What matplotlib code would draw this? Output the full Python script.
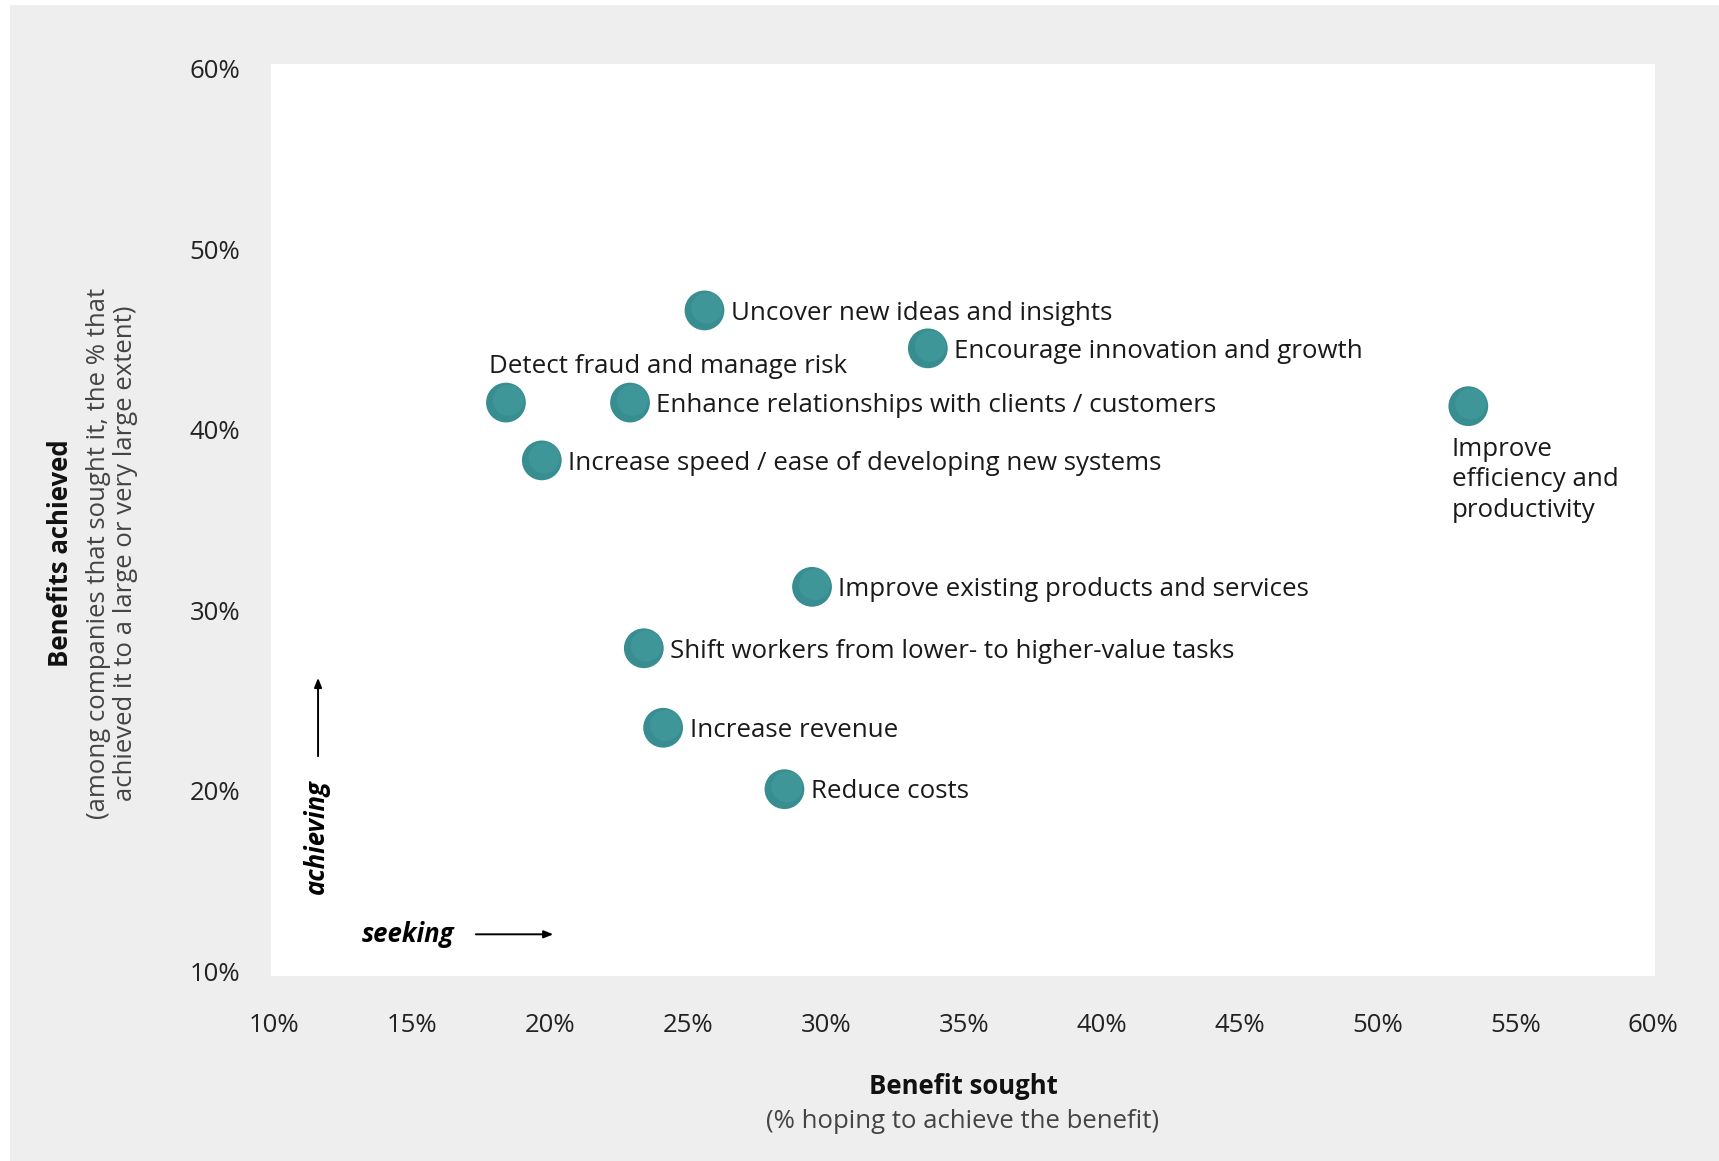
import matplotlib.pyplot as plt
from matplotlib.patches import Rectangle
from matplotlib.ticker import FuncFormatter

plt.rcParams['font.family'] = ['Open Sans', 'DejaVu Sans']

# datos (% que busca el beneficio, % que lo logra)
labels = [
    "Uncover new ideas and insights",
    "Encourage innovation and growth",
    "Detect fraud and manage risk",
    "Enhance relationships with clients / customers",
    "Improve\nefficiency and\nproductivity",
    "Increase speed / ease of developing new systems",
    "Improve existing products and services",
    "Shift workers from lower- to higher-value tasks",
    "Increase revenue",
    "Reduce costs",
]
sought = [25.6, 33.7, 18.4, 22.9, 53.3, 19.7, 29.5, 23.4, 24.1, 28.5]
achieved = [46.6, 44.5, 41.5, 41.5, 41.3, 38.3, 31.3, 27.9, 23.5, 20.1]
# donde va la etiqueta: derecha, arriba, abajo
placement = ['right', 'right', 'above', 'right', 'below',
             'right', 'right', 'right', 'right', 'right']

ticks = [10, 20, 30, 40, 50, 60]
xticks = [10, 15, 20, 25, 30, 35, 40, 45, 50, 55, 60]

fig = plt.figure(figsize=(17.19, 11.61), dpi=100, facecolor='white')
fig.patches.append(Rectangle((10 / 1719, 0), 1 - 10 / 1719, 1 - 5 / 1161,
                             transform=fig.transFigure, facecolor='#eeeeee',
                             edgecolor='none', zorder=-10))

ax = fig.add_axes([271 / 1719, 1 - 976 / 1161, (1655 - 271) / 1719, (976 - 64) / 1161])
ax.set_facecolor('white')
for s in ax.spines.values():
    s.set_visible(False)

ax.set_xlim(9.88, 60.07)
ax.set_ylim(9.76, 60.24)
ax.set_xticks(xticks)
ax.set_yticks(ticks)
fmt = FuncFormatter(lambda v, p: f"{v:.0f}%")
ax.xaxis.set_major_formatter(fmt)
ax.yaxis.set_major_formatter(fmt)
ax.tick_params(axis='both', length=0, labelsize=18.5, colors='#222222')
ax.tick_params(axis='x', pad=27)
ax.tick_params(axis='y', pad=22)

# puntos
ax.scatter(sought, achieved, s=820, color='#388d91', edgecolor='none', zorder=3)
ax.scatter([v + 0.09 for v in sought], [v + 0.13 for v in achieved], s=500,
           color='#48a5a7', edgecolor='none', alpha=0.4, zorder=4)

for lab, x, y, pl in zip(labels, sought, achieved, placement):
    if pl == 'right':
        ax.annotate(lab, (x, y), xytext=(19, -2), textcoords='offset points',
                    ha='left', va='center', fontsize=18.6, color='#1a1a1a')
    elif pl == 'above':
        ax.annotate(lab, (x, y), xytext=(-12, 26), textcoords='offset points',
                    ha='left', va='center', fontsize=18.6, color='#1a1a1a')
    else:
        ax.annotate(lab, (x, y), xytext=(-12, -22), textcoords='offset points',
                    ha='left', va='top', fontsize=18.6, color='#1a1a1a',
                    linespacing=1.3)

# flechas "seeking" / "achieving"
ax.text(0.0325, 0.153, "achieving", transform=ax.transAxes, rotation=90,
        ha='center', va='center', fontsize=18.5, fontweight='bold', style='italic')
ax.annotate("", xy=(0.034, 0.330), xytext=(0.034, 0.238), xycoords='axes fraction',
            arrowprops=dict(arrowstyle='-|>,head_length=0.55,head_width=0.22', lw=1.4, color='black'))
ax.text(0.099, 0.0457, "seeking", transform=ax.transAxes,
        ha='center', va='center', fontsize=18.5, fontweight='bold', style='italic')
ax.annotate("", xy=(0.206, 0.0457), xytext=(0.146, 0.0457), xycoords='axes fraction',
            arrowprops=dict(arrowstyle='-|>,head_length=0.55,head_width=0.22', lw=1.4, color='black'))

# titulos de ejes
cx = (271 + 1655) / 2 / 1719
fig.text(cx, 1 - 1086 / 1161, "Benefit sought", ha='center', va='center',
         fontsize=18.5, fontweight='bold', color='#111111')
fig.text(cx, 1 - 1122 / 1161, "(% hoping to achieve the benefit)", ha='center',
         va='center', fontsize=18.5, color='#444444')

cy = 1 - 553 / 1161
fig.text(60 / 1719, cy, "Benefits achieved", rotation=90, ha='center', va='center',
         fontsize=18.5, fontweight='bold', color='#111111')
fig.text(112 / 1719, cy, "(among companies that sought it, the % that\nachieved it to a large or very large extent)",
         rotation=90, ha='center', va='center', multialignment='center',
         fontsize=18.5, color='#444444', linespacing=1.1)

fig.savefig('out.png', dpi=100, facecolor=fig.get_facecolor())
